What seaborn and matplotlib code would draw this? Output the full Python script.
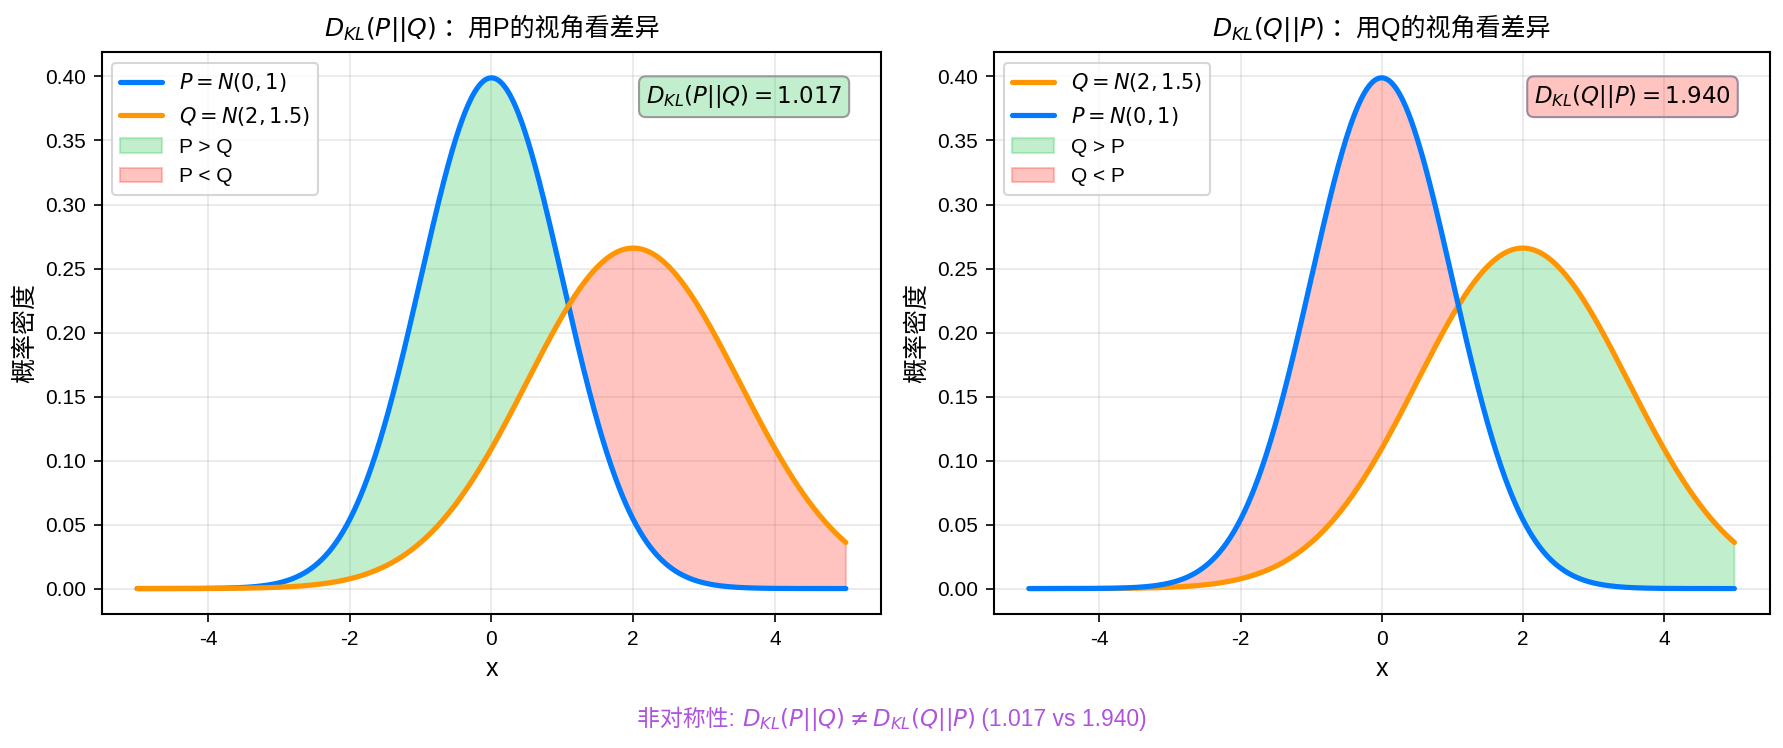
import numpy as np
import pandas as pd
import matplotlib
matplotlib.use('Agg')
import matplotlib.pyplot as plt
import matplotlib.ticker as mticker
from matplotlib.colors import to_rgba
from matplotlib.offsetbox import TextArea, HPacker, AnchoredOffsetbox
import seaborn as sns

# distributions shown in the chart (parameters from the legend labels)
dist_names = ['P', 'Q']
dist_means = [0.0, 2.0]
dist_stds = [1.0, 1.5]
x_range = [-5, 5]
kl_values = [1.017, 1.940]   # as printed in the chart

blue = '#007AFF'
orange = '#FF9500'
green = '#34C759'
red = '#FF3B30'
purple = '#AF52DE'

sns.set_style('whitegrid')
fams = ['Liberation Sans', 'Noto Sans CJK SC', 'DejaVu Sans']
plt.rcParams['font.family'] = fams
plt.rcParams['axes.unicode_minus'] = False
plt.rcParams['mathtext.fontset'] = 'dejavusans'
for k in ('text.color', 'axes.labelcolor', 'xtick.color', 'ytick.color'):
    plt.rcParams[k] = 'black'

x = np.linspace(x_range[0], x_range[1], 1000)


def normal_pdf(x, mu, sd):
    return np.exp(-0.5 * ((x - mu) / sd) ** 2) / (sd * np.sqrt(2 * np.pi))


p = normal_pdf(x, dist_means[0], dist_stds[0])
q = normal_pdf(x, dist_means[1], dist_stds[1])
df = pd.DataFrame({'x': x, 'P': p, 'Q': q})


def mixed_text(parts, props):
    # math parts and CJK parts packed side by side
    boxes = [TextArea(s, textprops=props) for s in parts]
    return HPacker(children=boxes, align='baseline', pad=0, sep=0)


def add_title(ax, parts):
    pk = mixed_text(parts, dict(fontsize=12, color='black', family=fams))
    ab = AnchoredOffsetbox(loc='lower center', child=pk, pad=0, borderpad=0.4,
                           frameon=False, bbox_to_anchor=(0.5, 1.0),
                           bbox_transform=ax.transAxes)
    ax.add_artist(ab)


fig = plt.figure(figsize=(11.893, 4.987), dpi=150)
ax1 = fig.add_axes([0.057, 0.179, 0.437, 0.751])
ax2 = fig.add_axes([0.557, 0.179, 0.435, 0.751])

# left: P || Q
sns.lineplot(data=df, x='x', y='P', ax=ax1, color=blue, lw=2.5, label='$P = N(0, 1)$')
sns.lineplot(data=df, x='x', y='Q', ax=ax1, color=orange, lw=2.5, label='$Q = N(2, 1.5)$')
ax1.fill_between(x, p, q, where=p > q, color=green, alpha=0.3, label='P > Q')
ax1.fill_between(x, p, q, where=p < q, color=red, alpha=0.3, label='P < Q')
ax1.text(0.95, 0.945, '$D_{KL}(P||Q) = %.3f$' % kl_values[0], transform=ax1.transAxes,
         ha='right', va='top', fontsize=11,
         bbox=dict(boxstyle='round', facecolor=to_rgba(green, 0.3), edgecolor='#9a9a9a'))
add_title(ax1, ['$D_{KL}(P||Q)$', ' ：用P的视角看差异'])

# right: Q || P
sns.lineplot(data=df, x='x', y='Q', ax=ax2, color=orange, lw=2.5, label='$Q = N(2, 1.5)$')
sns.lineplot(data=df, x='x', y='P', ax=ax2, color=blue, lw=2.5, label='$P = N(0, 1)$')
ax2.fill_between(x, q, p, where=q > p, color=green, alpha=0.3, label='Q > P')
ax2.fill_between(x, q, p, where=q < p, color=red, alpha=0.3, label='Q < P')
ax2.text(0.95, 0.945, '$D_{KL}(Q||P) = %.3f$' % kl_values[1], transform=ax2.transAxes,
         ha='right', va='top', fontsize=11,
         bbox=dict(boxstyle='round', facecolor=to_rgba(red, 0.3), edgecolor='#9a8aa0'))
add_title(ax2, ['$D_{KL}(Q||P)$', ' ：用Q的视角看差异'])

for ax in (ax1, ax2):
    ax.set_xlabel('x', fontsize=12)
    ax.set_ylabel('概率密度', fontsize=12)
    ax.set_xticks([-4, -2, 0, 2, 4])
    ax.set_yticks(np.arange(0, 0.41, 0.05))
    ax.yaxis.set_major_formatter(mticker.StrMethodFormatter('{x:.2f}'))
    ax.grid(True, alpha=0.3, color='#b0b0b0')
    ax.tick_params(axis='both', labelsize=10, length=4, color='black', left=True, bottom=True)
    for s in ax.spines.values():
        s.set_edgecolor('black')
        s.set_linewidth(1.0)
    ax.legend(loc='upper left', fontsize=10, frameon=True)

# bottom note
note = mixed_text(['非对称性: ', '$D_{KL}(P||Q) \\neq D_{KL}(Q||P)$',
                   ' (%.3f vs %.3f)' % (kl_values[0], kl_values[1])],
                  dict(fontsize=11, color=purple, family=fams))
ab = AnchoredOffsetbox(loc='lower center', child=note, pad=0, borderpad=0, frameon=False,
                       bbox_to_anchor=(0.5, 0.02), bbox_transform=fig.transFigure)
fig.add_artist(ab)

fig.savefig('out.png', dpi=150)
